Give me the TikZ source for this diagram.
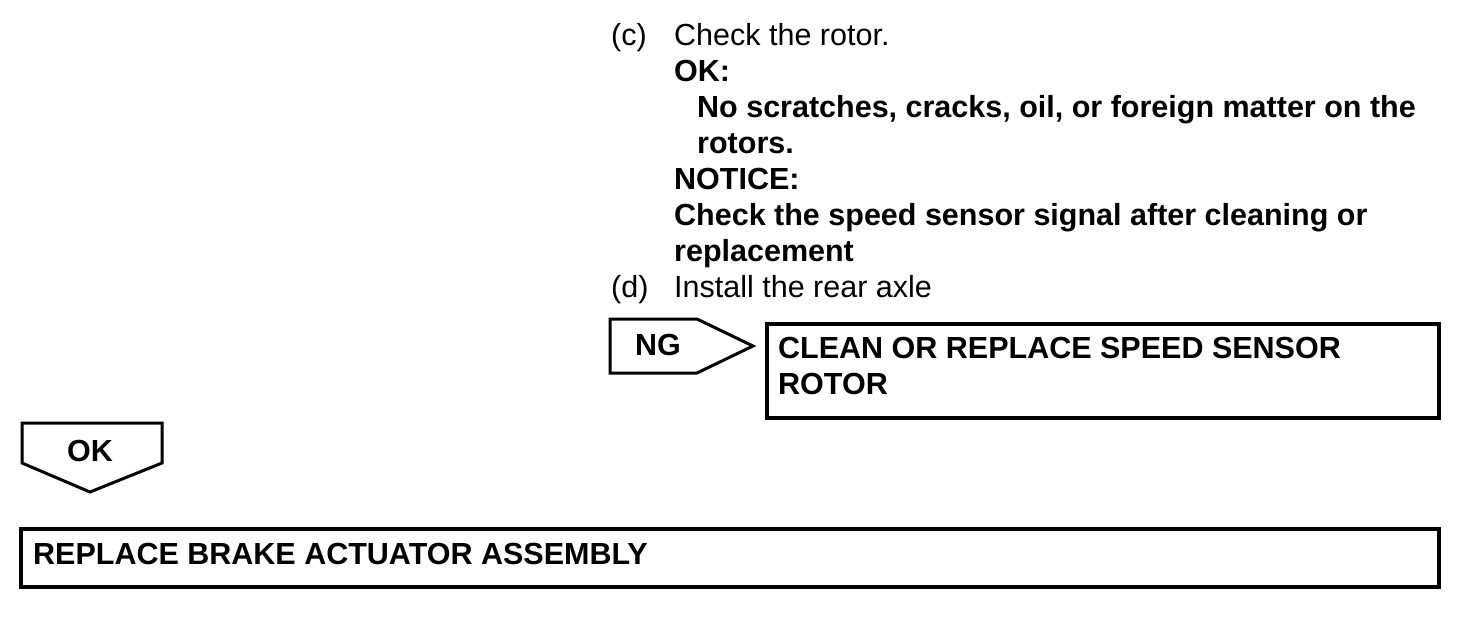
\documentclass[tikz,border=0pt]{standalone}
\usepackage{fontspec}
\setmainfont{Liberation Sans}
\usetikzlibrary{positioning}

\begin{document}
\begin{tikzpicture}[
    x=1pt, y=-1pt,
    txt/.style={font=\fontsize{30.5}{36}\selectfont, anchor=base west, inner sep=0pt},
    btxt/.style={font=\fontsize{30.5}{36}\selectfont\bfseries, anchor=base west, inner sep=0pt},
    box/.style={rectangle, draw, line width=4pt, anchor=north west, inner sep=0pt},
    tag/.style={draw, line width=3pt, line join=miter},
]

\useasboundingbox (0,0) rectangle (1472,616);

%% TEXT
    % step (c)
    \node[txt] (c_mark) at (611,45) {(c)};
    \node[txt] (c_step) at (674,45) {Check the rotor.};
    \node[btxt] (ok_head) at (674,81) {OK:};
    \node[btxt] (ok_line1) at (697,117) {No scratches, cracks, oil, or foreign matter on the};
    \node[btxt] (ok_line2) at (697,153) {rotors.};
    \node[btxt] (notice_head) at (674,189) {NOTICE:};
    \node[btxt] (notice_line1) at (674,225) {Check the speed sensor signal after cleaning or};
    \node[btxt] (notice_line2) at (674,261) {replacement};

    % step (d)
    \node[txt] (d_mark) at (611,297) {(d)};
    \node[txt] (d_step) at (674,297) {Install the rear axle};

%% NG BRANCH
    \draw[tag] (610,319) -- (697,319) -- (753,346) -- (697,373) -- (610,373) -- cycle;
    \node[btxt] (ng_tag) at (635,355) {NG};

    \node[box, minimum width=672pt, minimum height=94pt] (ng_box) at (765,322) {};
    \node[btxt] (ng_line1) at (778,358) {CLEAN OR REPLACE SPEED SENSOR};
    \node[btxt] (ng_line2) at (778,394) {ROTOR};

%% OK BRANCH
    \draw[tag] (22,423) -- (162,423) -- (162,463) -- (90,492) -- (22,463) -- cycle;
    \node[btxt] (ok_tag) at (67,461) {OK};

    \node[box, minimum width=1418pt, minimum height=58pt] (ok_box) at (19,527) {};
    \node[btxt] (ok_box_text) at (33,564) {REPLACE BRAKE ACTUATOR ASSEMBLY};

\end{tikzpicture}
\end{document}
